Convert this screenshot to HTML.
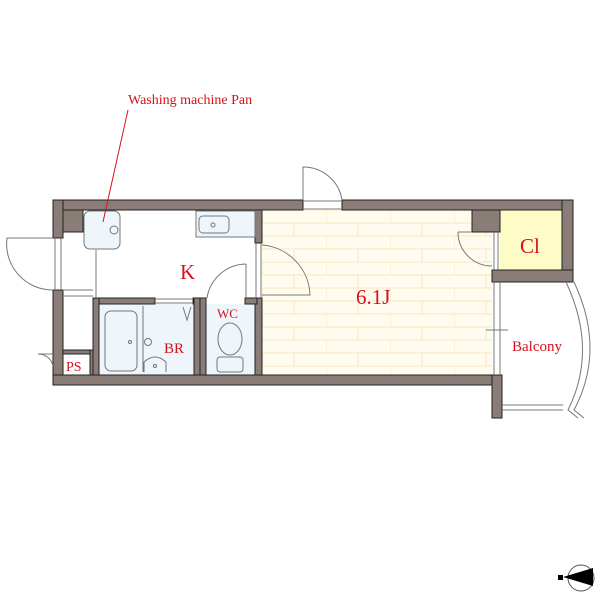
<!DOCTYPE html>
<html><head><style>body{margin:0;background:#fff}svg{display:block}</style></head><body>
<svg width="600" height="600" viewBox="0 0 600 600" xmlns="http://www.w3.org/2000/svg" font-family="Liberation Serif, serif">
<defs>
<pattern id="brick" x="262" y="210" width="64" height="26" patternUnits="userSpaceOnUse">
<rect width="64" height="26" fill="#fffcef"/>
<path d="M0 0H64M0 13H64M0 26H64M0 0V13M32 13V26" stroke="#f3dfae" stroke-width="0.8" fill="none"/>
</pattern>
</defs>
<rect x="262" y="210" width="230" height="165" fill="url(#brick)"/>
<rect x="500" y="210" width="62" height="60" fill="#fdfbc6"/>
<rect x="99" y="304" width="95" height="71" fill="#eef5fb"/>
<rect x="206" y="304" width="50" height="71" fill="#eef5fb"/>
<g fill="#8a7d78" stroke="#222" stroke-width="1">
<rect x="53" y="200" width="250" height="10"/>
<rect x="342" y="200" width="231" height="10"/>
<rect x="53" y="200" width="10" height="38"/>
<rect x="53" y="290" width="10" height="95"/>
<rect x="63" y="210" width="20" height="22"/>
<rect x="53" y="375" width="449" height="10"/>
<rect x="562" y="200" width="11" height="82"/>
<rect x="492" y="270" width="81" height="12"/>
<rect x="472" y="210" width="28" height="22"/>
<rect x="492" y="375" width="10" height="43"/>
<rect x="255" y="210" width="7" height="33"/>
<rect x="255" y="298" width="7" height="77"/>
<rect x="93" y="298" width="62" height="6"/>
<rect x="193" y="298" width="13" height="6"/>
<rect x="245" y="298" width="12" height="6"/>
<rect x="93" y="298" width="6" height="77"/>
<rect x="194" y="298" width="6" height="77"/>
<rect x="200" y="298" width="6" height="77"/>
<rect x="63" y="350" width="30" height="4"/>
<rect x="90" y="350" width="3" height="25"/>
</g>
<g fill="none" stroke="#777" stroke-width="1">
<path d="M303 201H342M303 209H342"/>
<path d="M55 238V290M61 238V290"/>
<path d="M256 243V298M261 243V298"/>
<path d="M494 282V375M500 282V375M486 330H508"/>
<path d="M155 299H193M155 303H193"/>
<path d="M63 290H93M63 296H93"/>
<path d="M96 250V298"/>
<path d="M303 200V167A39 39 0 0 1 342 200"/>
<path d="M53 238H7A46 46 0 0 0 53 290"/>
<path d="M262 245A52 52 0 0 1 310 295H262"/>
<path d="M246 264V298M246 264A40 40 0 0 0 207 298"/>
<path d="M458 232A34 34 0 0 0 492 266M458 232H472"/>
<path d="M494 232V270M498 232V270"/>
<path d="M53 354H38A15 15 0 0 1 53 366"/>
<path d="M566 282Q598 350 568 410L578 418"/>
<path d="M574 282Q606 350 574 410L584 418"/>
<path d="M502 405H563M502 410H563"/>
<rect x="84" y="211" width="36" height="38" rx="6" fill="#eef5fb"/>
<circle cx="114" cy="230" r="4"/>
<rect x="196" y="211" width="59" height="26" fill="#eef5fb"/>
<rect x="199" y="216" width="30" height="17" rx="4"/>
<circle cx="213" cy="225" r="2"/>
<rect x="105" y="311" width="32" height="60" rx="6"/>
<circle cx="130" cy="342" r="1.5"/>
<path d="M143 306V372"/>
<circle cx="148" cy="342" r="3.5"/>
<path d="M144 372V362Q155 352 166 362V372"/>
<circle cx="155" cy="366" r="1.5"/>
<path d="M183 307L187 320L191 307"/>
<ellipse cx="230" cy="339" rx="12" ry="16"/>
<rect x="217" y="357" width="26" height="15" rx="3"/>
</g>
<g fill="#d8101c">
<text x="128" y="104" font-size="14">Washing machine Pan</text>
<text x="180" y="279" font-size="21">K</text>
<text x="356" y="304" font-size="21">6.1J</text>
<text x="520" y="253" font-size="21">Cl</text>
<text x="512" y="351" font-size="15">Balcony</text>
<text x="164" y="353" font-size="15">BR</text>
<text x="217" y="318" font-size="13">WC</text>
<text x="66" y="371" font-size="14">PS</text>
</g>
<line x1="128" y1="110" x2="103" y2="222" stroke="#d8101c" stroke-width="1"/>
<circle cx="581" cy="578" r="13" fill="none" stroke="#555"/>
<path d="M563 577L593 568L593 586Z" fill="#000"/>
<rect x="558" y="575" width="5" height="5" fill="#000"/>
</svg>
</body></html>
